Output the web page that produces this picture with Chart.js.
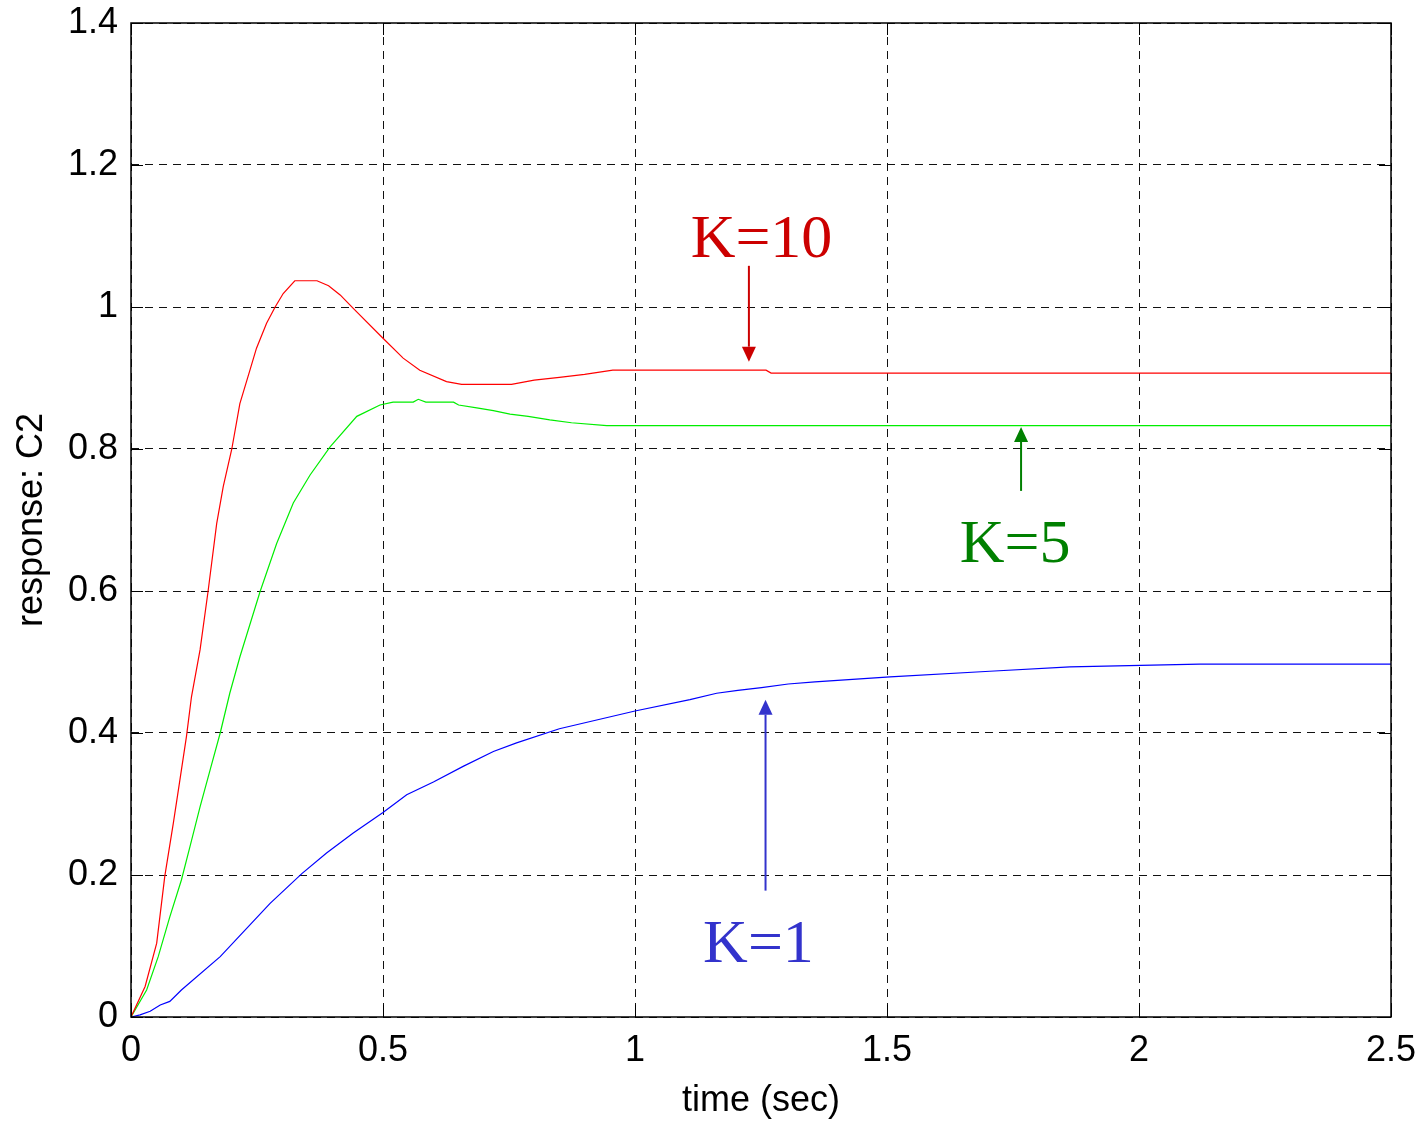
<!DOCTYPE html>
<html>
<head>
<meta charset="utf-8">
<script src="https://cdn.jsdelivr.net/npm/chart.js@4.4.0/dist/chart.umd.min.js"></script>
<style>
html,body{margin:0;padding:0;background:#fff;}
#wrap{width:1428px;height:1123px;position:relative;}
</style>
</head>
<body>
<div id="wrap"><canvas id="c" width="1428" height="1123"></canvas></div>
<script>
// ---- data ----
const seriesNames = ['K=10', 'K=5', 'K=1'];

const tK10 = [0, 0.028, 0.051, 0.067, 0.084, 0.096, 0.11, 0.12, 0.137, 0.153, 0.17, 0.183, 0.2, 0.216, 0.236, 0.249, 0.269, 0.286, 0.302, 0.325, 0.369, 0.392, 0.415, 0.441, 0.5, 0.54, 0.573, 0.626, 0.656, 0.755, 0.8, 0.85, 0.9, 0.956, 1.26, 1.27, 2.5];
const vK10 = [0, 0.043, 0.104, 0.198, 0.273, 0.329, 0.395, 0.451, 0.517, 0.6, 0.695, 0.747, 0.8, 0.864, 0.911, 0.942, 0.977, 1.0, 1.019, 1.037, 1.037, 1.030, 1.017, 0.998, 0.956, 0.928, 0.911, 0.895, 0.891, 0.891, 0.897, 0.901, 0.905, 0.911, 0.911, 0.907, 0.907];

const tK5 = [0, 0.031, 0.054, 0.077, 0.1, 0.117, 0.137, 0.157, 0.177, 0.196, 0.216, 0.256, 0.289, 0.322, 0.355, 0.395, 0.448, 0.494, 0.52, 0.56, 0.57, 0.585, 0.64, 0.65, 0.686, 0.719, 0.752, 0.788, 0.831, 0.874, 0.944, 2.5];
const vK5 = [0, 0.038, 0.085, 0.141, 0.193, 0.24, 0.296, 0.348, 0.4, 0.456, 0.507, 0.599, 0.667, 0.724, 0.763, 0.803, 0.846, 0.862, 0.866, 0.866, 0.870, 0.866, 0.866, 0.862, 0.858, 0.854, 0.849, 0.846, 0.841, 0.837, 0.833, 0.833];

const tK1 = [0, 0.018, 0.038, 0.058, 0.077, 0.1, 0.177, 0.276, 0.339, 0.388, 0.441, 0.5, 0.547, 0.6, 0.659, 0.719, 0.765, 0.85, 1.0, 1.109, 1.162, 1.204, 1.251, 1.304, 1.357, 1.506, 1.704, 1.863, 2.12, 2.5];
const vK1 = [0, 0.003, 0.008, 0.017, 0.022, 0.038, 0.085, 0.16, 0.202, 0.231, 0.259, 0.288, 0.313, 0.331, 0.353, 0.374, 0.386, 0.406, 0.431, 0.447, 0.456, 0.460, 0.464, 0.469, 0.472, 0.479, 0.487, 0.493, 0.497, 0.497];

const xTicks = [0, 0.5, 1, 1.5, 2, 2.5];
const yTicks = [0, 0.2, 0.4, 0.6, 0.8, 1, 1.2, 1.4];
const xTitle = 'time (sec)';
const yTitle = 'response: C2';

// annotation labels (data coordinates)
const annLabels = ['K=10', 'K=5', 'K=1'];
const annTextX = [1.251, 1.754, 1.245];
const annTextY = [1.070, 0.641, 0.078];
const annArrowX = [1.226, 1.766, 1.259];
const annArrowFrom = [1.058, 0.741, 0.178];
const annArrowTo = [0.923, 0.831, 0.447];
const annColors = ['#cc0000', '#008000', '#3333cc'];

// ---- build ----
const toXY = (ts, vs) => ts.map((t, i) => ({x: t, y: vs[i]}));
const lineColors = ['#ff0000', '#00ee00', '#0000ff'];
const datasets = [[tK10, vK10], [tK5, vK5], [tK1, vK1]].map((p, i) => ({
  label: seriesNames[i],
  data: toXY(p[0], p[1]),
  borderColor: lineColors[i],
  borderWidth: 1.2,
  pointRadius: 0,
  tension: 0,
  fill: false
}));

const boxPlugin = {
  id: 'box',
  afterDatasetsDraw(chart) {
    const {ctx, chartArea: a, scales} = chart;
    ctx.save();
    ctx.strokeStyle = '#000';
    ctx.lineWidth = 1.5;
    ctx.setLineDash([]);
    ctx.strokeRect(a.left, a.top, a.right - a.left, a.bottom - a.top);
    ctx.lineWidth = 1;
    const tl = 12;
    xTicks.forEach(v => {
      const x = Math.round(scales.x.getPixelForValue(v)) + 0.5;
      ctx.beginPath();
      ctx.moveTo(x, a.bottom); ctx.lineTo(x, a.bottom - tl);
      ctx.moveTo(x, a.top); ctx.lineTo(x, a.top + tl);
      ctx.stroke();
    });
    yTicks.forEach(v => {
      const y = Math.round(scales.y.getPixelForValue(v)) + 0.5;
      ctx.beginPath();
      ctx.moveTo(a.left, y); ctx.lineTo(a.left + tl, y);
      ctx.moveTo(a.right, y); ctx.lineTo(a.right - tl, y);
      ctx.stroke();
    });
    // annotations
    annLabels.forEach((lab, i) => {
      const col = annColors[i];
      const ax = scales.x.getPixelForValue(annArrowX[i]);
      const y0 = scales.y.getPixelForValue(annArrowFrom[i]);
      const y1 = scales.y.getPixelForValue(annArrowTo[i]);
      const dir = y1 > y0 ? 1 : -1;
      const head = 15, hw = 7;
      ctx.strokeStyle = col;
      ctx.fillStyle = col;
      ctx.lineWidth = 2;
      ctx.beginPath();
      ctx.moveTo(ax, y0);
      ctx.lineTo(ax, y1 - dir * head);
      ctx.stroke();
      ctx.beginPath();
      ctx.moveTo(ax, y1);
      ctx.lineTo(ax - hw, y1 - dir * head);
      ctx.lineTo(ax + hw, y1 - dir * head);
      ctx.closePath();
      ctx.fill();
      ctx.font = '62px "Liberation Serif", "Times New Roman", serif';
      ctx.textAlign = 'center';
      ctx.textBaseline = 'alphabetic';
      ctx.fillText(lab, scales.x.getPixelForValue(annTextX[i]), scales.y.getPixelForValue(annTextY[i]));
    });
    ctx.restore();
  }
};

const font = {family: '"Liberation Sans", Arial, sans-serif', size: 36};

new Chart(document.getElementById('c'), {
  type: 'line',
  data: {datasets},
  options: {
    responsive: false,
    animation: false,
    devicePixelRatio: 1,
    layout: {padding: {top: 23, right: 37, left: 0, bottom: 0}},
    plugins: {legend: {display: false}, tooltip: {enabled: false}},
    scales: {
      x: {
        type: 'linear', min: 0, max: 2.5,
        afterBuildTicks: s => { s.ticks = xTicks.map(v => ({value: v})); },
        afterFit: s => { s.height = 106; s.paddingLeft = 0; s.paddingRight = 0; },
        ticks: {font, color: '#000', padding: 12, maxRotation: 0, autoSkip: false,
                callback: v => String(v)},
        grid: {color: '#111', lineWidth: 1, drawTicks: false},
        border: {display: false, dash: [8, 6]},
        title: {display: true, text: xTitle, font, color: '#000', padding: {top: 0, bottom: 0}}
      },
      y: {
        type: 'linear', min: 0, max: 1.4,
        afterBuildTicks: s => { s.ticks = yTicks.map(v => ({value: v})); },
        afterFit: s => { s.width = 131; s.paddingTop = 0; s.paddingBottom = 0; },
        ticks: {font, color: '#000', padding: 13, autoSkip: false,
                callback: v => String(v)},
        grid: {color: '#111', lineWidth: 1, drawTicks: false},
        border: {display: false, dash: [8, 6]},
        title: {display: true, text: yTitle, font, color: '#000', padding: {top: 10, bottom: 0}}
      }
    }
  },
  plugins: [boxPlugin]
});
</script>
</body>
</html>
